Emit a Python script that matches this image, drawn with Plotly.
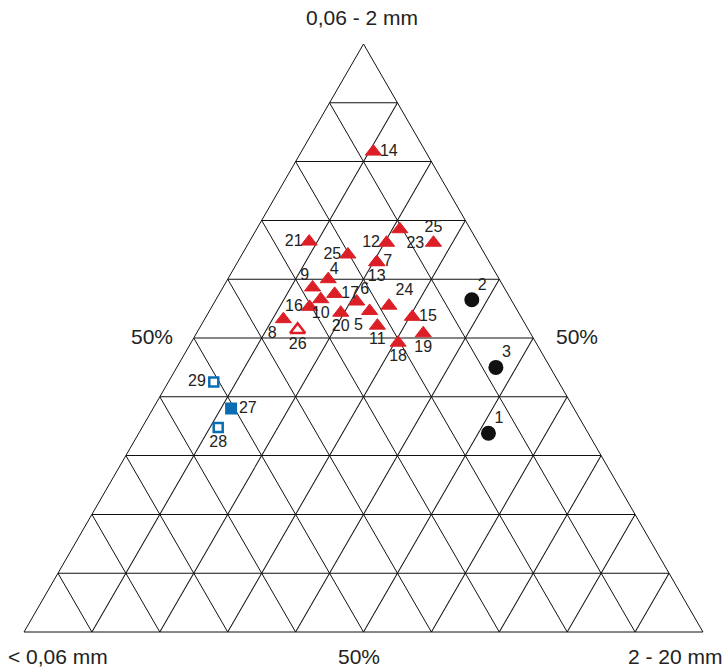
import plotly.graph_objects as go

# Ternary data (percent): a = 0,06 - 2 mm (top), b = < 0,06 mm (left), c = 2 - 20 mm (right)
red_labels = ["21", "25", "12", "23", "25", "7", "13", "4", "9", "17", "10", "16", "8",
              "20", "6", "5", "11", "24", "15", "19", "18", "14"]
red_a = [66.4, 64.2, 66.2, 68.5, 66.2, 62.9, 62.9, 60.0, 58.6, 57.5, 56.6, 55.3, 53.2,
         54.3, 56.2, 54.6, 52.1, 55.5, 53.6, 50.8, 49.2, 81.7]
red_b = [24.8, 20.2, 13.5, 10.4, 6.6, 16.6, 16.6, 25.2, 28.2, 25.5, 28.0, 30.3, 35.2,
         26.2, 22.9, 21.8, 21.9, 18.5, 16.0, 15.8, 20.3, 7.7]
red_c = [8.8, 15.6, 20.3, 21.1, 27.2, 20.5, 20.5, 14.8, 13.2, 17.0, 15.4, 14.4, 11.6,
         19.5, 20.9, 23.6, 26.0, 26.0, 30.4, 33.4, 30.5, 10.6]

# label placement (style)
red_pos = ["middle left", "middle left", "middle left", "bottom right", "top center",
           "middle right", "bottom center", "top right", "top left", "middle right",
           "bottom center", "middle left", "bottom left", "bottom center", "top right",
           "bottom left", "bottom center", "top right", "middle right", "bottom center",
           "bottom center", "middle right"]
red_gap = [9, 9, 9, 9, 9, 9, 9, 1, 4, 9, 9, 9, 9, 9, 4, 9, 9, 9, 9, 9, 9, 9]

open_tri_labels = ["26"]
open_tri_a = [51.4]
open_tri_b = [34.0]
open_tri_c = [14.6]
open_tri_pos = ["bottom center"]

circle_labels = ["2", "3", "1"]
circle_a = [56.5, 45.0, 33.8]
circle_b = [5.8, 8.0, 14.7]
circle_c = [37.7, 47.0, 51.5]
circle_pos = ["top right", "top right", "top right"]

open_sq_labels = ["29", "28"]
open_sq_a = [42.5, 34.8]
open_sq_b = [50.8, 54.0]
open_sq_c = [6.7, 11.2]
open_sq_pos = ["middle left", "bottom center"]

fill_sq_labels = ["27"]
fill_sq_a = [38.0]
fill_sq_b = [50.5]
fill_sq_c = [11.5]
fill_sq_pos = ["middle right"]

RED = "#dc1f26"
BLUE = "#0a6db3"
FONT = "Liberation Sans, Arial, sans-serif"
tfont = dict(family=FONT, size=16, color="#222222")

fig = go.Figure()
fig.add_trace(go.Scatterternary(
    a=red_a, b=red_b, c=red_c, mode="markers",
    marker=dict(symbol="triangle-up", size=14, color=RED, line=dict(width=1, color=RED))))
fig.add_trace(go.Scatterternary(
    a=open_tri_a, b=open_tri_b, c=open_tri_c, mode="markers",
    marker=dict(symbol="triangle-up", size=13, color="white", line=dict(width=2.5, color=RED))))
fig.add_trace(go.Scatterternary(
    a=circle_a, b=circle_b, c=circle_c, mode="markers",
    marker=dict(symbol="circle", size=15, color="#111111")))
fig.add_trace(go.Scatterternary(
    a=open_sq_a, b=open_sq_b, c=open_sq_c, mode="markers",
    marker=dict(symbol="square", size=9, color="white", line=dict(width=2.5, color=BLUE))))
fig.add_trace(go.Scatterternary(
    a=fill_sq_a, b=fill_sq_b, c=fill_sq_c, mode="markers",
    marker=dict(symbol="square", size=12, color=BLUE)))

# point labels (invisible markers carry the text; their size sets the label gap)
for A, B, C, T, P, sz in [
        (red_a, red_b, red_c, red_labels, red_pos, red_gap),
        (open_tri_a, open_tri_b, open_tri_c, open_tri_labels, open_tri_pos, 10),
        (circle_a, circle_b, circle_c, circle_labels, circle_pos, 8),
        (open_sq_a, open_sq_b, open_sq_c, open_sq_labels, open_sq_pos, 11),
        (fill_sq_a, fill_sq_b, fill_sq_c, fill_sq_labels, fill_sq_pos, 11)]:
    fig.add_trace(go.Scatterternary(
        a=A, b=B, c=C, mode="markers+text", text=T, textposition=P, textfont=tfont,
        hoverinfo="skip",
        marker=dict(size=sz, color="rgba(0,0,0,0)", opacity=0,
                    line=dict(width=0, color="rgba(0,0,0,0)"))))

axis_common = dict(
    showticklabels=False, ticks="", dtick=10, min=0,
    showgrid=True, gridcolor="#111111", gridwidth=1,
    linecolor="#111111", linewidth=1, title=dict(text=""))

fig.update_layout(
    width=726, height=669,
    margin=dict(l=24, r=23, t=44, b=37),
    paper_bgcolor="white",
    showlegend=False,
    font=dict(family=FONT),
    ternary=dict(
        sum=100, bgcolor="white",
        domain=dict(x=[0, 1], y=[0, 1]),
        aaxis=axis_common, baxis=axis_common, caxis=axis_common),
)

lab = dict(family=FONT, size=21, color="#222222")
annots = [
    ("0,06 - 2 mm", 0.4978, 1.0459),
    ("< 0,06 mm", 0.0501, -0.0417),
    ("2 - 20 mm", 0.9595, -0.0417),
    ("50%", 0.4934, -0.0417),
    ("50%", 0.1878, 0.5034),
    ("50%", 0.8144, 0.5034),
]
for t, x, y in annots:
    fig.add_annotation(text=t, x=x, y=y, xref="paper", yref="paper",
                       showarrow=False, font=lab, xanchor="center", yanchor="middle")

fig.write_html("out.html", config={"displayModeBar": False},
               post_script="document.body.style.margin='0px';document.body.style.overflow='hidden';")
